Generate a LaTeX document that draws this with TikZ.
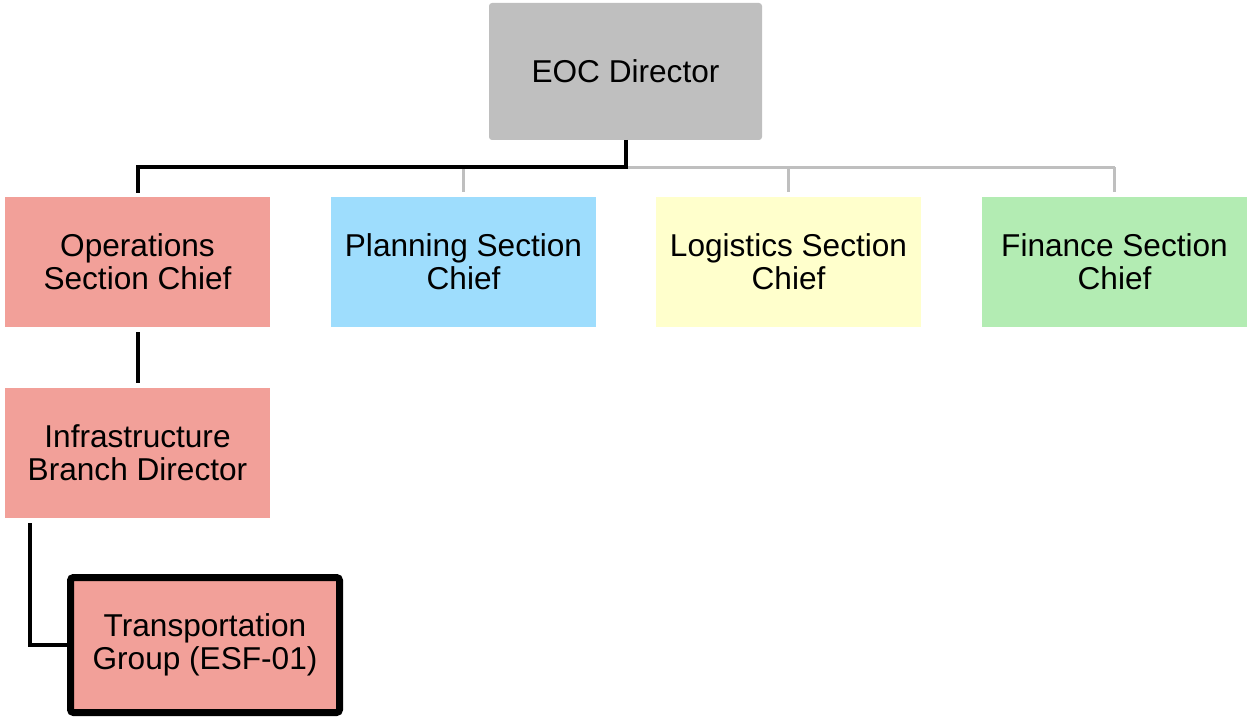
\documentclass[tikz,border=0pt]{standalone}
\usepackage{fontspec}
\setmainfont{Liberation Sans}
\definecolor{eocgray}{HTML}{BFBFBF}
\definecolor{opspink}{HTML}{F2A099}
\definecolor{planblue}{HTML}{9EDDFD}
\definecolor{logyellow}{HTML}{FFFFCC}
\definecolor{fingreen}{HTML}{B3ECB3}
\begin{document}
\begin{tikzpicture}[x=0.5pt,y=-0.5pt,
  box/.style={draw=none, inner sep=0pt, outer sep=0pt, align=center,
    minimum width=132.5pt, minimum height=65pt,
    font=\fontsize{15.8pt}{16.5pt}\selectfont},
  blk/.style={line width=2pt, black},
  gry/.style={line width=1.5pt, eocgray}]
\useasboundingbox (0,0) rectangle (1247,717);
% boxes
\node[box, fill=eocgray, rounded corners=1.5pt, minimum width=136.5pt, minimum height=68.5pt] (eoc) at (625.5,71.5) {EOC Director};
\node[box, fill=opspink] (ops) at (137.5,262) {Operations\\Section Chief};
\node[box, fill=planblue] (plan) at (463.5,262) {Planning Section\\Chief};
\node[box, fill=logyellow] (log) at (788.5,262) {Logistics Section\\Chief};
\node[box, fill=fingreen] (fin) at (1114.5,262) {Finance Section\\Chief};
\node[box, fill=opspink] (infra) at (137.5,453) {Infrastructure\\Branch Director};
\node[box, fill=opspink, draw=black, line width=3.5pt, rounded corners=1.5pt,
  minimum width=134.5pt, minimum height=67.5pt] (trans) at (205,645) {Transportation\\Group (ESF-01)};
% connectors
\coordinate (bus) at ([yshift=-13.5pt]eoc.south);
\coordinate (busr) at (bus -| fin);
\draw[gry] (bus) -- (busr);
\draw[gry] (bus -| plan) -- ([yshift=2.5pt]plan.north);
\draw[gry] (bus -| log) -- ([yshift=2.5pt]log.north);
\draw[gry] (busr) -- ([yshift=2.5pt]fin.north);
\draw[blk] (eoc.south) -- (bus) -- (bus -| ops) -- ([yshift=2pt]ops.north);
\draw[blk] ([yshift=-2.5pt]ops.south) -- ([yshift=2.5pt]infra.north);
\coordinate (infrab) at ([xshift=-53.75pt,yshift=-2.5pt]infra.south);
\draw[blk] (infrab) -- (infrab |- trans.west) -- ([xshift=-1.75pt]trans.west);
\end{tikzpicture}
\end{document}
